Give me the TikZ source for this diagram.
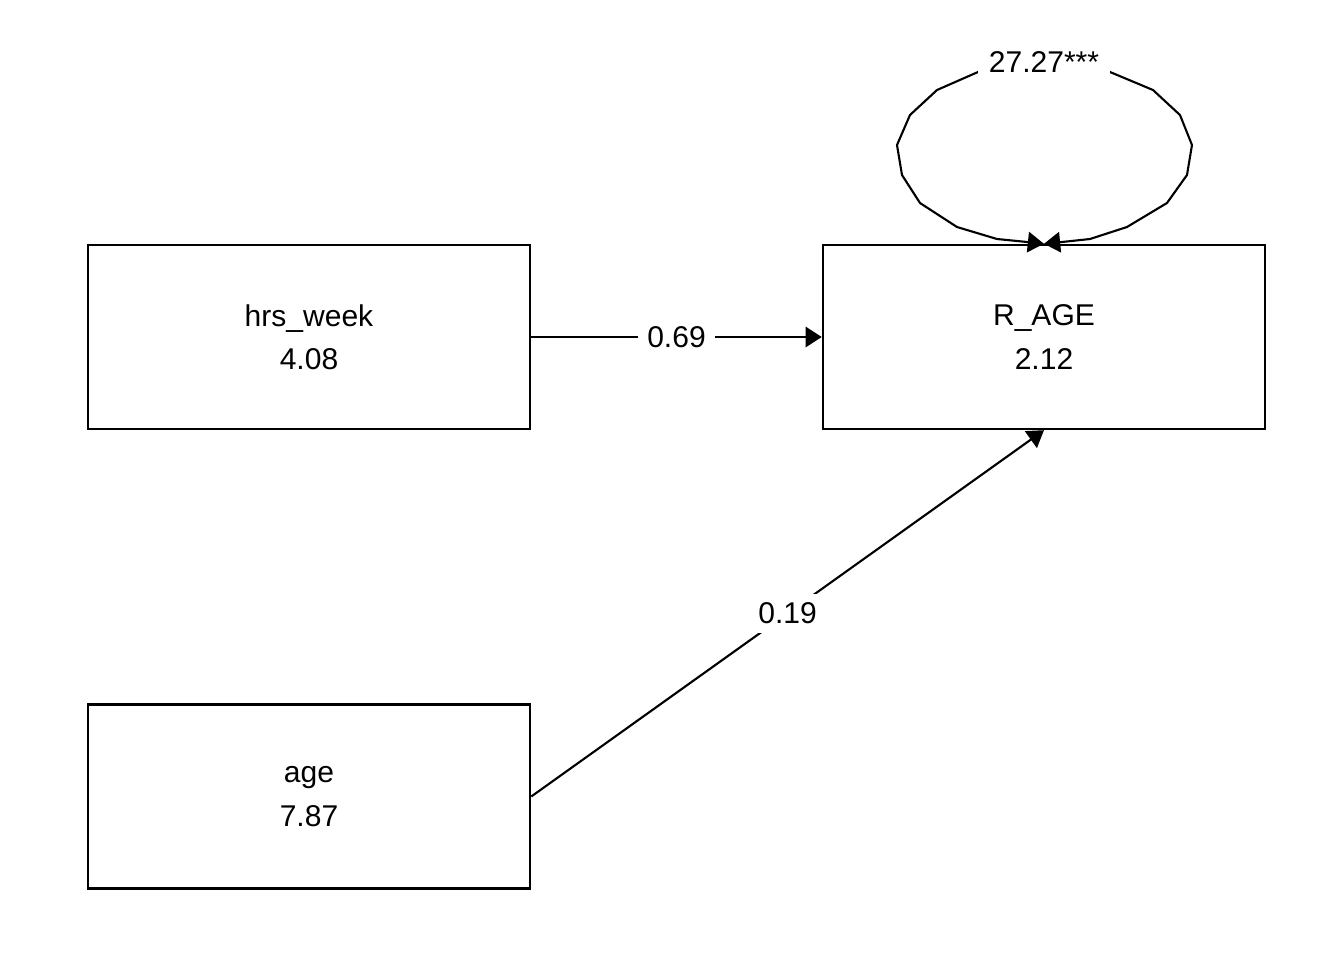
\documentclass[tikz,border=0pt]{standalone}
\usepackage{fontspec}
\setmainfont{Liberation Sans}
\usetikzlibrary{arrows.meta}
\begin{document}
\begin{tikzpicture}[x=0.01cm,y=-0.01cm,
  var/.style={draw=black,line width=0.65pt,minimum width=4.42cm,minimum height=1.84cm,inner sep=0pt,align=center,
    font=\fontsize{8.54pt}{12.3pt}\selectfont},
  path/.style={line width=0.6pt,-{Triangle[length=4.6pt,width=5.8pt]}},
  lbl/.style={fill=white,inner sep=2.6pt,font=\fontsize{8.54pt}{11.4pt}\selectfont}]
\useasboundingbox (0,0) rectangle (1344,960);
\node[var] (hrs) at (309,337) {hrs\_week\\4.08};
\node[var] (rage) at (1044,337) {R\_AGE\\2.12};
\node[var] (age) at (309,796.5) {age\\7.87};
\draw[path] (hrs.east) -- node[lbl] {0.69} (rage.west);
\draw[path] (age.east) -- node[lbl] {0.19} (rage.south);
\draw[line width=0.6pt,line join=round,{Triangle[length=4.6pt,width=5.8pt]}-{Triangle[length=4.6pt,width=5.8pt]}]
  (rage.north) -- (1027,242) -- (997,239) -- (957,227) -- (920,203) -- (902,175) -- (897,145) -- (910,115) -- (937,90) -- (978,72)
  -- (1044,58) -- (1110,72) -- (1153,90) -- (1180,115) -- (1192,145) -- (1187,175) -- (1167,203) -- (1127,227) -- (1090,239) -- (1062,242) -- (rage.north);
\node[lbl,inner xsep=3pt] (loopl) at (1044,62) {27.27***};
\end{tikzpicture}
\end{document}
